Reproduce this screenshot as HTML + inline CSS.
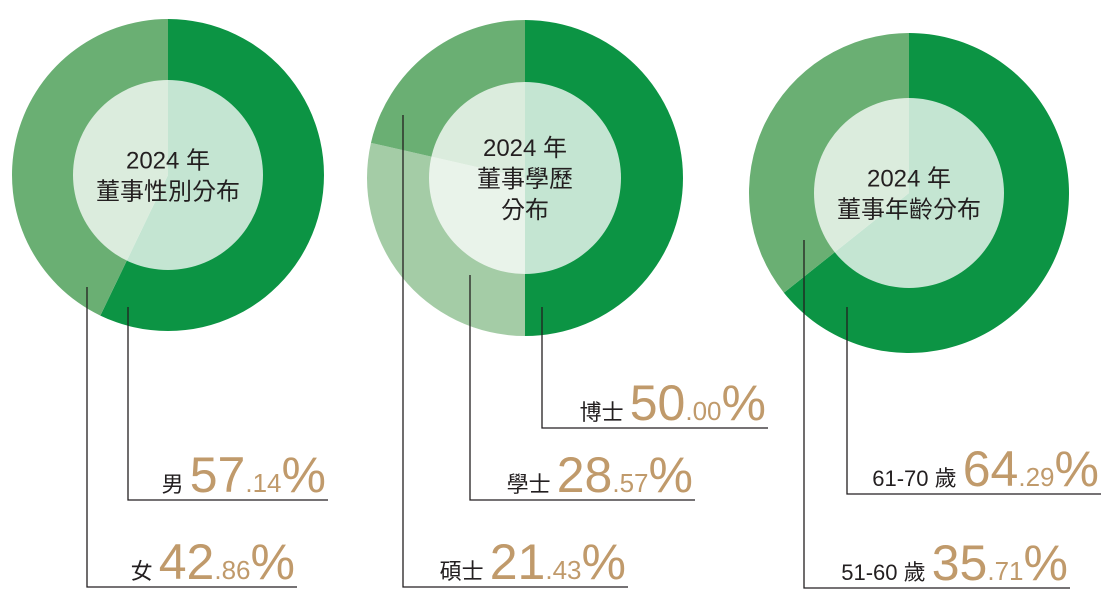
<!DOCTYPE html>
<html><head><meta charset="utf-8"><style>
body{margin:0;background:#fff;width:1113px;height:598px;overflow:hidden}
svg text{font-family:"Liberation Sans","Noto Sans CJK TC",sans-serif}
</style></head><body>
<svg id="c" width="1113" height="598" viewBox="0 0 1113 598"></svg>
<script>
const chartTitles=[["2024 年","董事性別分布"],["2024 年","董事學歷","分布"],["2024 年","董事年齡分布"]];
const categories=[["男","女"],["博士","學士","碩士"],["61-70 歲","51-60 歲"]];
const values=[[57.14,42.86],[50.00,28.57,21.43],[64.29,35.71]];
const geo=[{cx:168,cy:175,r:156,ri:95},{cx:525,cy:178,r:158,ri:96},{cx:909,cy:193,r:160,ri:95}];
const leaders=[[{x:128,y0:307,y1:500,x1:328},{x:87,y0:287,y1:587,x1:297}],
 [{x:542,y0:307,y1:428,x1:768},{x:470,y0:275,y1:500,x1:695},{x:403,y0:115,y1:587,x1:628}],
 [{x:847,y0:307,y1:494,x1:1101},{x:804,y0:240,y1:588,x1:1070}]];
const colors=[["#0c9444","#6aaf73"],["#0c9444","#a4cca6","#6aaf73"],["#0c9444","#6aaf73"]];
const NS="http://www.w3.org/2000/svg";const svg=document.getElementById('c');
function mk(t,a,p){const e=document.createElementNS(NS,t);for(const k in a)e.setAttribute(k,a[k]);(p||svg).appendChild(e);return e;}
function pt(cx,cy,r,f){const a=f*2*Math.PI-Math.PI/2;return [cx+r*Math.cos(a),cy+r*Math.sin(a)];}
values.forEach((vals,i)=>{
 const g=geo[i];const grp=mk('g',{});
 
 
 const tot=vals.reduce((s,v)=>s+v,0);let acc=0;
 vals.forEach((v,j)=>{
  const f0=acc/tot,f1=(acc+v)/tot;acc+=v;
  const [x0,y0]=pt(g.cx,g.cy,g.r,f0),[x1,y1]=pt(g.cx,g.cy,g.r,f1);
  const large=(f1-f0)>0.5?1:0;
  const p=mk('path',{d:`M${g.cx},${g.cy}L${x0},${y0}A${g.r},${g.r} 0 ${large} 1 ${x1},${y1}Z`,fill:colors[i][j]},grp);
  
  
 });
 const ic=mk('circle',{cx:g.cx,cy:g.cy,r:g.ri,fill:'#fff','fill-opacity':0.76},grp);
 
 
 const lines=chartTitles[i];const lh=31;const start=g.cy-(lines.length-1)*lh/2+9;
 lines.forEach((t,k)=>{const tx=mk('text',{x:g.cx,y:start+k*lh,'text-anchor':'middle','font-size':24,fill:'#231f20'},grp);tx.textContent=t;
  
  });
 leaders[i].forEach((L,j)=>{
  const pl=mk('polyline',{points:`${L.x},${L.y0} ${L.x},${L.y1} ${L.x1},${L.y1}`,fill:'none',stroke:'#231f20','stroke-width':1.3},grp);
  
  
  const v=values[i][j].toFixed(2).split('.');
  const tx=mk('text',{x:L.x1-2,y:L.y1-8,'text-anchor':'end',fill:'#231f20','font-size':22},grp);
  
  
  const s1=mk('tspan',{},tx);s1.textContent=categories[i][j]+' ';
  const s2=mk('tspan',{fill:'#c09a6b','font-size':50},tx);s2.textContent=v[0];
  const s3=mk('tspan',{fill:'#c09a6b','font-size':26},tx);s3.textContent='.'+v[1];
  const s4=mk('tspan',{fill:'#c09a6b','font-size':50},tx);s4.textContent='%';
 });
});
</script></body></html>
